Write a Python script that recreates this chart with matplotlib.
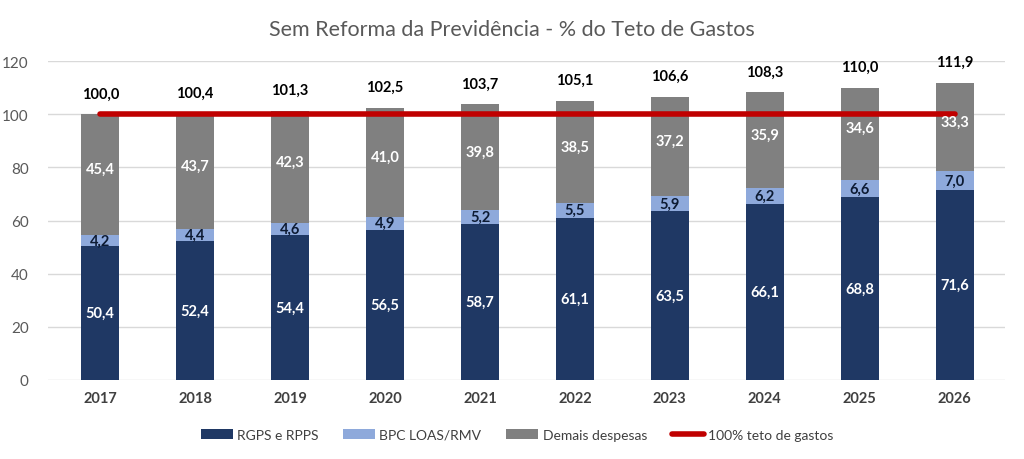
import matplotlib
matplotlib.use("Agg")
from matplotlib import pyplot as plt
import numpy as np

years = ["2017", "2018", "2019", "2020", "2021", "2022", "2023", "2024", "2025", "2026"]
rgps = [50.4, 52.4, 54.4, 56.5, 58.7, 61.1, 63.5, 66.1, 68.8, 71.6]
bpc = [4.2, 4.4, 4.6, 4.9, 5.2, 5.5, 5.9, 6.2, 6.6, 7.0]
demais = [45.4, 43.7, 42.3, 41.0, 39.8, 38.5, 37.2, 35.9, 34.6, 33.3]
totals = [100.0, 100.4, 101.3, 102.5, 103.7, 105.1, 106.6, 108.3, 110.0, 111.9]
teto = [100] * len(years)

plt.rcParams['font.family'] = ['Lato', 'DejaVu Sans']

fig = plt.figure(figsize=(10.24, 4.6), dpi=100)
ax = fig.add_axes([48 / 1024, 79 / 460, 957 / 1024, 319 / 460])

x = np.arange(len(years))
w = 0.4
c_rgps, c_bpc, c_dem, c_red = "#1F3864", "#8EA9DB", "#808080", "#C00000"

b1 = ax.bar(x, rgps, w, color=c_rgps, label="RGPS e RPPS", zorder=3)
b2 = ax.bar(x, bpc, w, bottom=rgps, color=c_bpc, label="BPC LOAS/RMV", zorder=3)
base = np.array(rgps) + np.array(bpc)
b3 = ax.bar(x, demais, w, bottom=base, color=c_dem, label="Demais despesas", zorder=3)
ln, = ax.plot(x, teto, color=c_red, lw=4, solid_capstyle="round", label="100% teto de gastos", zorder=4)

# segment labels
for i in x:
    ax.text(i, rgps[i] / 2, f"{rgps[i]:.1f}".replace(".", ","), ha="center", va="center",
            color="white", fontsize=10.5, fontweight="bold", zorder=5)
    ax.text(i, rgps[i] + bpc[i] / 2, f"{bpc[i]:.1f}".replace(".", ","), ha="center", va="center",
            color="#0D1B33", fontsize=10.5, fontweight="bold", zorder=5)
    ax.text(i, base[i] + demais[i] / 2 + 2, f"{demais[i]:.1f}".replace(".", ","), ha="center", va="center",
            color="white", fontsize=10.5, fontweight="bold", zorder=5)
    ax.text(i, totals[i] + 7.7, f"{totals[i]:.1f}".replace(".", ","), ha="center", va="center",
            color="black", fontsize=10.5, fontweight="bold", zorder=5)

ax.set_xlim(-0.55, 9.53)
ax.set_ylim(0, 120)
ax.set_yticks(range(0, 121, 20))
ax.set_xticks(x)
ax.set_xticklabels(years, fontweight="bold", color="#404040", fontsize=10.5)
ax.tick_params(axis="y", colors="#595959", labelsize=11, length=0, pad=14)
ax.tick_params(axis="x", length=0, pad=8)
ax.grid(axis="y", color="#D9D9D9", lw=1, zorder=0)
for s in ax.spines.values():
    s.set_visible(False)

fig.text(0.5, 1 - 30 / 460, "Sem Reforma da Previdência - % do Teto de Gastos", ha="center", va="center",
         fontsize=15.5, color="#595959")

fig.legend(handles=[b1, b2, b3, ln], loc="center", bbox_to_anchor=(0.505, 1 - 436 / 460), ncol=4,
           frameon=False, fontsize=10, labelcolor="#404040", handlelength=2.3, handleheight=0.7,
           columnspacing=1.8, handletextpad=0.3)

fig.savefig("out.png", dpi=100)
